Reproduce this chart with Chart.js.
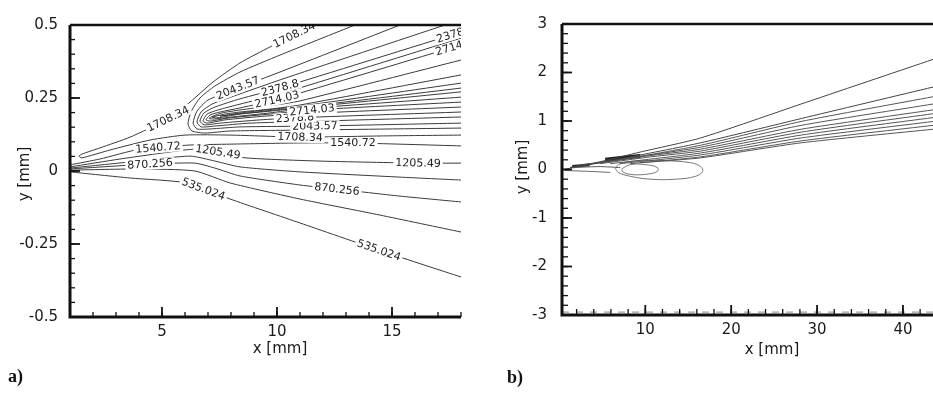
<!DOCTYPE html>
<html><head><meta charset="utf-8">
<script src="https://cdn.jsdelivr.net/npm/chart.js@4.4.0/dist/chart.umd.min.js"></script>
<style>
html,body{margin:0;padding:0;background:#fff;width:933px;height:394px;overflow:hidden;}
#wa{position:absolute;left:0;top:0;width:480px;height:394px;}
#wb{position:absolute;left:480px;top:0;width:453px;height:394px;}
.tag{position:absolute;font-family:"Liberation Serif","DejaVu Serif",serif;font-weight:bold;font-size:18px;color:#111;}
</style></head><body>
<div id="wa"><canvas id="ca" width="480" height="394"></canvas></div>
<div id="wb"><canvas id="cb" width="453" height="394"></canvas></div>
<div class="tag" style="left:8px;top:366px">a)</div>
<div class="tag" style="left:507px;top:367px">b)</div>
<script>
// ---------- Panel a) axes ----------
const xRangeA = [1, 18];
const yRangeA = [-0.5, 0.5];
const xTicksA = [5, 10, 15];
const yTicksA = [-0.5, -0.25, 0, 0.25, 0.5];
const yTickLabelsA = ['-0.5', '-0.25', '0', '0.25', '0.5'];

// ---------- Panel a) contour lines [x mm, y mm] ----------
// U-shaped contours: upper branch (tip -> end) and lower branch (tip -> end)
const c1708Up = [[1.39,0.051],[1.52,0.058],[2.30,0.079],[3.61,0.116],[5.26,0.178],[6.22,0.236],[7.22,0.305],[8.39,0.370],[9.70,0.425],[10.83,0.469],[11.57,0.500]];
const c1708Lo = [[1.39,0.051],[1.52,0.045],[2.74,0.072],[4.48,0.106],[6.00,0.123],[7.96,0.123],[11.00,0.116],[14.48,0.120],[18,0.123]];
const c1876Up = [[6.13,0.161],[6.26,0.202],[6.65,0.250],[7.30,0.291],[8.39,0.339],[10.13,0.397],[13.39,0.500]];
const c1876Lo = [[6.13,0.161],[6.30,0.137],[6.87,0.130],[7.96,0.137],[11,0.140],[18,0.147]];
const c2044Up = [[6.35,0.164],[6.52,0.205],[7.00,0.243],[8.30,0.284],[10.13,0.339],[15.35,0.500]];
const c2044Lo = [[6.35,0.164],[6.52,0.144],[7.09,0.144],[8.39,0.151],[11.65,0.154],[18,0.164]];
const c2211Up = [[6.52,0.168],[6.70,0.202],[7.17,0.229],[8.39,0.264],[10.13,0.312],[17.30,0.500]];
const c2211Lo = [[6.52,0.168],[6.70,0.151],[7.30,0.154],[8.83,0.164],[11.87,0.171],[18,0.185]];
const c2379Up = [[6.65,0.171],[6.83,0.199],[7.30,0.219],[8.39,0.247],[10.13,0.284],[18,0.476]];
const c2379Lo = [[6.65,0.171],[6.83,0.158],[7.52,0.164],[9.26,0.175],[10.78,0.182],[18,0.202]];
const c2546Up = [[6.78,0.171],[6.96,0.195],[7.43,0.209],[8.39,0.229],[10.13,0.264],[18,0.455]];
const c2546Lo = [[6.78,0.171],[6.96,0.164],[7.74,0.175],[9.48,0.188],[11.87,0.199],[18,0.219]];
const c2714Up = [[6.91,0.175],[7.09,0.192],[7.52,0.202],[8.39,0.216],[10.13,0.247],[18,0.432]];
const c2714Lo = [[6.91,0.175],[7.09,0.171],[7.96,0.182],[9.70,0.195],[11.52,0.209],[18,0.236]];
const c2882Up = [[7.04,0.180],[7.22,0.188],[7.61,0.199],[8.39,0.209],[9.70,0.223],[11,0.240],[18,0.380]];
const c2882Lo = [[7.04,0.180],[7.26,0.178],[7.74,0.182],[8.39,0.188],[9.70,0.199],[11,0.212],[18,0.253]];
const c3049Up = [[7.17,0.184],[7.35,0.188],[7.74,0.195],[8.39,0.202],[9.70,0.212],[11,0.226],[18,0.329]];
const c3049Lo = [[7.17,0.184],[7.39,0.182],[7.87,0.188],[8.39,0.195],[9.70,0.205],[11,0.216],[18,0.271]];
const c3217Up = [[7.52,0.188],[8.61,0.201],[11,0.222],[18,0.301]];
const c3217Lo = [[7.52,0.188],[8.61,0.198],[11,0.218],[18,0.284]];
// open contours below the cusp
const c1540 = [[1,0.021],[2.30,0.041],[4.04,0.075],[6.22,0.089],[7.96,0.092],[11,0.096],[13.3,0.096],[18,0.086]];
const c1205 = [[1,0.014],[3.17,0.041],[6.00,0.072],[6.65,0.075],[7.43,0.065],[8.61,0.045],[11.87,0.034],[16.13,0.027],[18,0.027]];
const c1038 = [[1,0.010],[3.61,0.031],[6.22,0.051],[7.30,0.034],[8.39,0.014],[11,-0.003],[15.35,-0.021],[18,-0.031]];
const c870  = [[1,0.007],[4.48,0.024],[6.43,0.027],[7.30,0.010],[8.39,-0.017],[11,-0.048],[12.61,-0.062],[15.35,-0.086],[18,-0.106]];
const c703  = [[1,0.003],[4.04,0.007],[6.43,0.000],[7.96,-0.041],[11,-0.096],[14.48,-0.151],[18,-0.209]];
const c535  = [[1,-0.003],[3.61,-0.024],[6.09,-0.041],[7.96,-0.096],[11,-0.178],[14.43,-0.271],[18,-0.363]];

// ---------- Panel b) axes ----------
const xRangeB = [0.3, 43.5];
const yRangeB = [-3, 3];
const xTicksB = [10, 20, 30, 40];
const yTicksB = [-3, -2, -1, 0, 1, 2, 3];
const yTickLabelsB = ['-3', '-2', '-1', '0', '1', '2', '3'];

// ---------- Panel b) contour lines [x mm, y mm] ----------
const r1 = [[1.24,0.04],[4.74,0.16],[9.42,0.36],[16.44,0.65],[28.14,1.35],[43.5,2.27]];
const r2 = [[1.24,0.04],[7.08,0.22],[16.44,0.55],[28.14,1.05],[43.5,1.70]];
const r3 = [[1.82,0.06],[7.08,0.20],[16.44,0.50],[28.14,0.99],[43.5,1.50]];
const r4 = [[2.41,0.08],[8.25,0.24],[16.44,0.46],[28.14,0.91],[43.5,1.35]];
const r5 = [[2.99,0.10],[9.42,0.26],[16.44,0.42],[28.14,0.83],[43.5,1.23]];
const b1 = [[4.74,0.12],[10.59,0.26],[16.44,0.38],[28.14,0.77],[43.5,1.15]];
const b2 = [[5.91,0.12],[16.44,0.34],[28.14,0.71],[43.5,1.07]];
const b3 = [[7.08,0.12],[16.44,0.30],[28.14,0.65],[43.5,0.99]];
const b4 = [[8.25,0.12],[16.44,0.26],[28.14,0.59],[43.5,0.91]];
const b5 = [[9.42,0.14],[16.44,0.24],[28.14,0.55],[43.5,0.83]];
const s1 = [[0.42,0.00],[1.82,0.04],[4.74,0.06],[7.08,0.04]];
const s2 = [[0.65,-0.02],[3.57,-0.04],[5.91,-0.06]];
const blob1 = [[5.33,0.20],[9.42,0.28]];
const blob2 = [[1.5,0.06],[3.5,0.10]];
const loopBig = [[6.50,0.02],[7.08,0.12],[9.42,0.18],[12.35,0.18],[15.27,0.14],[16.44,0.06],[16.67,-0.04],[15.86,-0.14],[13.52,-0.20],[10.59,-0.20],[8.25,-0.14],[6.85,-0.06],[6.50,0.02]];
const loopSmall = [[7.32,0.02],[8.25,0.10],[10.01,0.10],[11.41,0.04],[11.41,-0.04],[10.01,-0.10],[8.25,-0.10],[7.32,-0.04],[7.32,0.02]];
const bottomDash = [[0.3,-2.94],[43.5,-2.94]];

// ---------- helpers ----------
const FONT = '"DejaVu Sans", "Liberation Sans", Arial, sans-serif';
const toXY = a => a.map(p => ({x: p[0], y: p[1]}));
const uShape = (up, lo) => toXY(up.slice().reverse().concat(lo.slice(1)));
const line = (data, extra) => Object.assign({data, showLine: true, pointRadius: 0, borderColor: '#3a3a3a', borderWidth: 1, tension: 0.2, fill: false}, extra || {});

const labelPlugin = {
  id: 'clabels',
  afterDatasetsDraw(chart, args, opts) {
    if (!opts.items || !opts.items.length) return;
    const {ctx, chartArea: a, scales: {x, y}} = chart;
    ctx.save();
    ctx.beginPath(); ctx.rect(a.left, a.top, a.right - a.left, a.bottom - a.top); ctx.clip();
    ctx.font = opts.font; ctx.textAlign = 'center'; ctx.textBaseline = 'middle';
    for (const it of opts.items) {
      const pts = it.pts;
      let i = 0;
      for (; i < pts.length - 2; i++) if (pts[i + 1][0] >= it.at) break;
      const p0 = pts[i], p1 = pts[i + 1];
      const t = (it.at - p0[0]) / (p1[0] - p0[0]);
      const X0 = x.getPixelForValue(p0[0]), Y0 = y.getPixelForValue(p0[1]);
      const X1 = x.getPixelForValue(p1[0]), Y1 = y.getPixelForValue(p1[1]);
      const px = X0 + t * (X1 - X0), py = Y0 + t * (Y1 - Y0);
      const ang = Math.atan2(Y1 - Y0, X1 - X0);
      const w = ctx.measureText(it.text).width;
      ctx.save(); ctx.translate(px, py); ctx.rotate(ang);
      ctx.fillStyle = '#fff'; ctx.fillRect(-w / 2 - 2, -5.5, w + 4, 11);
      ctx.fillStyle = opts.color; ctx.fillText(it.text, 0, 0.5);
      ctx.restore();
    }
    ctx.restore();
  }
};

const framePlugin = {
  id: 'frame',
  afterDraw(chart, args, o) {
    const {ctx, chartArea: a, scales: {x, y}} = chart;
    ctx.save();
    ctx.strokeStyle = '#111'; ctx.lineCap = 'butt';
    const tick = (px, py, dx, dy) => { ctx.beginPath(); ctx.moveTo(px, py); ctx.lineTo(px + dx, py + dy); ctx.stroke(); };
    ctx.lineWidth = 1.3;
    for (let k = 0; ; k++) { const v = o.xMinorStart + k * o.xMinorStep; if (v > x.max + 1e-9) break; tick(x.getPixelForValue(v), a.bottom, 0, -o.minorLen); }
    for (let k = 0; ; k++) { const v = o.yMinorStart + k * o.yMinorStep; if (v > y.max + 1e-9) break; tick(a.left, y.getPixelForValue(v), o.minorLen, 0); }
    ctx.lineWidth = 1.8;
    for (const v of o.xMajor) tick(x.getPixelForValue(v), a.bottom, 0, -o.majorLen);
    for (const v of o.yMajor) tick(a.left, y.getPixelForValue(v), o.majorLen, 0);
    ctx.lineWidth = 3;
    ctx.beginPath(); ctx.moveTo(a.left, a.top); ctx.lineTo(a.left, a.bottom); ctx.lineTo(a.right, a.bottom); ctx.stroke();
    ctx.lineWidth = 2.6;
    ctx.beginPath(); ctx.moveTo(a.left, a.top); ctx.lineTo(a.right, a.top); ctx.stroke();
    ctx.fillStyle = '#1a1a1a'; ctx.font = o.titleFont; ctx.textAlign = 'center'; ctx.textBaseline = 'middle';
    ctx.fillText(o.xTitle.text, o.xTitle.x, o.xTitle.y);
    ctx.save(); ctx.translate(o.yTitle.x, o.yTitle.y); ctx.rotate(-Math.PI / 2); ctx.fillText(o.yTitle.text, 0, 0); ctx.restore();
    ctx.restore();
  }
};

function axes(xr, yr, xt, yt, ytl, yw, xh, ypad, xpad) {
  return {
    x: {type: 'linear', min: xr[0], max: xr[1],
        afterBuildTicks: s => { s.ticks = xt.map(v => ({value: v})); },
        afterFit: s => { s.height = xh; },
        grid: {display: false, drawTicks: false}, border: {display: false},
        ticks: {color: '#1a1a1a', font: {family: FONT, size: 15}, padding: xpad, maxRotation: 0, autoSkip: false}},
    y: {type: 'linear', min: yr[0], max: yr[1],
        afterBuildTicks: s => { s.ticks = yt.map(v => ({value: v})); },
        afterFit: s => { s.width = yw; },
        grid: {display: false, drawTicks: false}, border: {display: false},
        ticks: {color: '#1a1a1a', font: {family: FONT, size: 15}, padding: ypad, autoSkip: false,
                callback: v => ytl[yt.indexOf(v)]}}
  };
}

// ---------- Panel a) ----------
new Chart(document.getElementById('ca'), {
  type: 'scatter',
  data: {datasets: [
    line(uShape(c1708Up, c1708Lo)), line(uShape(c1876Up, c1876Lo)), line(uShape(c2044Up, c2044Lo)),
    line(uShape(c2211Up, c2211Lo)), line(uShape(c2379Up, c2379Lo)), line(uShape(c2546Up, c2546Lo)),
    line(uShape(c2714Up, c2714Lo)), line(uShape(c2882Up, c2882Lo)), line(uShape(c3049Up, c3049Lo)),
    line(uShape(c3217Up, c3217Lo)),
    line(toXY(c1540)), line(toXY(c1205)), line(toXY(c1038)), line(toXY(c870)), line(toXY(c703)), line(toXY(c535))
  ]},
  options: {
    responsive: false, animation: false, devicePixelRatio: 1,
    layout: {padding: {left: 0, right: 19, top: 25, bottom: 0}},
    scales: axes(xRangeA, yRangeA, xTicksA, yTicksA, yTickLabelsA, 70, 77, 12, 6),
    plugins: {
      legend: {display: false}, tooltip: {enabled: false},
      clabels: {font: '11px ' + FONT, color: '#222', items: [
        {pts: c1708Up, at: 5.26, text: '1708.34'}, {pts: c1708Up, at: 10.75, text: '1708.34'},
        {pts: c1708Lo, at: 11.0, text: '1708.34'},
        {pts: c1540, at: 4.83, text: '1540.72'}, {pts: c1540, at: 13.3, text: '1540.72'},
        {pts: c1205, at: 7.43, text: '1205.49'}, {pts: c1205, at: 16.13, text: '1205.49'},
        {pts: c870, at: 4.48, text: '870.256'}, {pts: c870, at: 12.61, text: '870.256'},
        {pts: c535, at: 6.8, text: '535.024'}, {pts: c535, at: 14.43, text: '535.024'},
        {pts: c2044Up, at: 8.3, text: '2043.57'}, {pts: c2044Lo, at: 11.65, text: '2043.57'},
        {pts: c2379Up, at: 10.13, text: '2378.8'}, {pts: c2379Lo, at: 10.78, text: '2378.8'},
        {pts: c2714Up, at: 10.0, text: '2714.03'}, {pts: c2714Lo, at: 11.52, text: '2714.03'},
        {pts: c2379Up, at: 17.75, text: '2378.8'}, {pts: c2714Up, at: 17.85, text: '2714.03'}
      ]},
      frame: {xMinorStart: 1, xMinorStep: 1, yMinorStart: -0.5, yMinorStep: 0.05, xMajor: xTicksA, yMajor: yTicksA,
              minorLen: 5, majorLen: 10, titleFont: '15px ' + FONT,
              xTitle: {text: 'x [mm]', x: 280, y: 349}, yTitle: {text: 'y [mm]', x: 25, y: 174}}
    }
  },
  plugins: [labelPlugin, framePlugin]
});

// ---------- Panel b) ----------
new Chart(document.getElementById('cb'), {
  type: 'scatter',
  data: {datasets: [
    line(toXY(r1), {borderColor: '#444'}), line(toXY(r2), {borderColor: '#444'}), line(toXY(r3), {borderColor: '#555'}),
    line(toXY(r4), {borderColor: '#555'}), line(toXY(r5), {borderColor: '#555'}),
    line(toXY(b1), {borderColor: '#555'}), line(toXY(b2), {borderColor: '#555'}), line(toXY(b3), {borderColor: '#555'}),
    line(toXY(b4), {borderColor: '#555'}), line(toXY(b5), {borderColor: '#555'}),
    line(toXY(s1), {borderColor: '#555'}), line(toXY(s2), {borderColor: '#666'}),
    line(toXY(blob1), {borderColor: '#222', borderWidth: 4}), line(toXY(blob2), {borderColor: '#222', borderWidth: 3}),
    line(toXY(loopBig), {borderColor: '#777', tension: 0.4}), line(toXY(loopSmall), {borderColor: '#777', tension: 0.4}),
    line(toXY(bottomDash), {borderColor: '#888', borderDash: [7, 7], tension: 0})
  ]},
  options: {
    responsive: false, animation: false, devicePixelRatio: 1,
    layout: {padding: {left: 0, right: 0, top: 12, bottom: 0}},
    scales: axes(xRangeB, yRangeB, xTicksB, yTicksB, yTickLabelsB, 82, 79, 15, 6),
    plugins: {
      legend: {display: false}, tooltip: {enabled: false},
      frame: {xMinorStart: 2, xMinorStep: 2, yMinorStart: -3, yMinorStep: 0.2, xMajor: xTicksB, yMajor: yTicksB.slice(1, -1),
              minorLen: 6, majorLen: 10, titleFont: '15px ' + FONT,
              xTitle: {text: 'x [mm]', x: 292, y: 350}, yTitle: {text: 'y [mm]', x: 43, y: 167}}
    }
  },
  plugins: [framePlugin]
});
</script>
</body></html>
